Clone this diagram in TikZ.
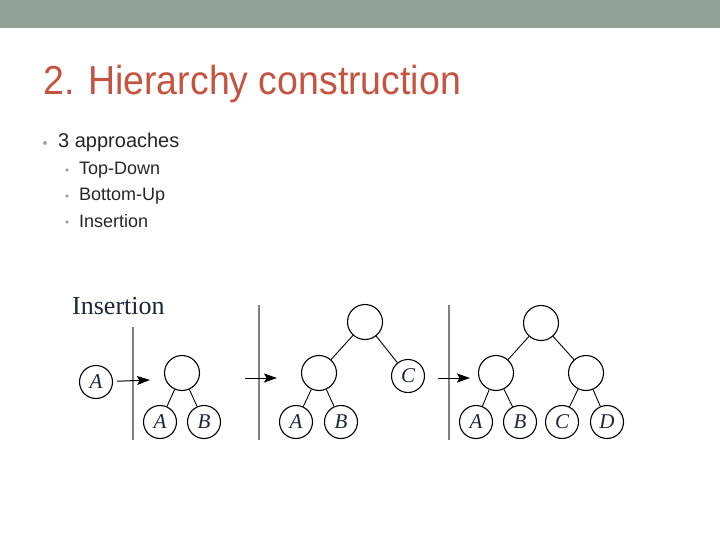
\documentclass[tikz,border=0pt]{standalone}
\usepackage{fontspec}
\setmainfont{Liberation Serif}
\newfontfamily\slidefont{Liberation Sans}
\usetikzlibrary{arrows.meta}
\definecolor{bandgreen}{RGB}{147,162,153}
\definecolor{titlered}{RGB}{196,84,64}
\definecolor{dotgray}{RGB}{165,165,165}
\definecolor{inkblue}{RGB}{30,38,60}

\begin{document}
\begin{tikzpicture}[x=1pt,y=-1pt,
	inner/.style={circle,draw,minimum size=35pt,inner sep=0pt,line width=1.1pt},
	leaf/.style={circle,draw,minimum size=33pt,inner sep=0pt,line width=1.1pt,text=inkblue,font=\fontsize{21}{21}\selectfont\itshape},
	edge/.style={line width=0.9pt},
	sep/.style={draw=gray,line width=1.4pt},
	move/.style={-{Stealth[length=13pt,width=9pt,inset=2.5pt]},line width=1pt},
	item/.style={anchor=base west,text=black!85,font=\slidefont\fontsize{#1}{#1}\selectfont}]
	\useasboundingbox (0,0) rectangle (720,540);
	\fill[bandgreen] (0,0) rectangle (720,28);
	\node[anchor=base west,inner sep=0pt,text=titlered,font=\slidefont\fontsize{40.5}{41}\selectfont] (title) at (43,95) {\scalebox{0.925}[1]{2. Hierarchy construction}};
	\fill[dotgray] (45,143) circle (2);
	\node[item=20,inner sep=0pt] (appr) at (58,148) {3 approaches};
	\foreach \y/\t in {175/Top-Down,201/Bottom-Up,227/Insertion}{
		\fill[dotgray] (67,\y-5) circle (1.8);
		\node[item=18,inner sep=0pt] at (79,\y) {\t};
	}
	\node[anchor=base west,inner sep=0pt,text=inkblue,font=\fontsize{26}{26}\selectfont] (lab) at (72,314) {Insertion};
	
	\coordinate (S1) at (133,327);
	\coordinate (T1) at (133,440);
	\coordinate (S2) at (259,305);
	\coordinate (T2) at (259,440);
	\coordinate (S3) at (449,305);
	\coordinate (T3) at (449,440);
	\draw[sep] (S1)--(T1);
	\draw[sep] (S2)--(T2);
	\draw[sep] (S3)--(T3);
	
	\node[leaf] (A0) at (96,382) {A};
	\coordinate (P1) at (150,380);
	\draw[move,shorten <=4pt] (A0)--(P1);
	
	\node[inner] (R1) at (182,373) {};
	\node[leaf] (A1) at (160,422) {A};
	\node[leaf] (B1) at (204,422) {B};
	\draw[edge] (R1)--(A1);
	\draw[edge] (R1)--(B1);
	
	\coordinate (Q2) at (245,378);
	\coordinate (P2) at (277,378);
	\draw[move] (Q2)--(P2);
	
	\node[inner] (R2) at (365,322) {};
	\node[inner] (M2) at (319,373) {};
	\node[leaf] (C2) at (408,376) {C};
	\node[leaf] (A2) at (296,422) {A};
	\node[leaf] (B2) at (341,422) {B};
	\draw[edge] (R2)--(M2);
	\draw[edge] (R2)--(C2);
	\draw[edge] (M2)--(A2);
	\draw[edge] (M2)--(B2);
	
	\coordinate (Q3) at (438,378);
	\coordinate (P3) at (470,378);
	\draw[move] (Q3)--(P3);
	
	\node[inner] (R3) at (541,323) {};
	\node[inner] (L3) at (496,373) {};
	\node[inner] (N3) at (586,373) {};
	\node[leaf] (A3) at (476,422) {A};
	\node[leaf] (B3) at (520,422) {B};
	\node[leaf] (C3) at (562,422) {C};
	\node[leaf] (D3) at (607,422) {D};
	\draw[edge] (R3)--(L3);
	\draw[edge] (R3)--(N3);
	\draw[edge] (L3)--(A3);
	\draw[edge] (L3)--(B3);
	\draw[edge] (N3)--(C3);
	\draw[edge] (N3)--(D3);
\end{tikzpicture}
\end{document}
